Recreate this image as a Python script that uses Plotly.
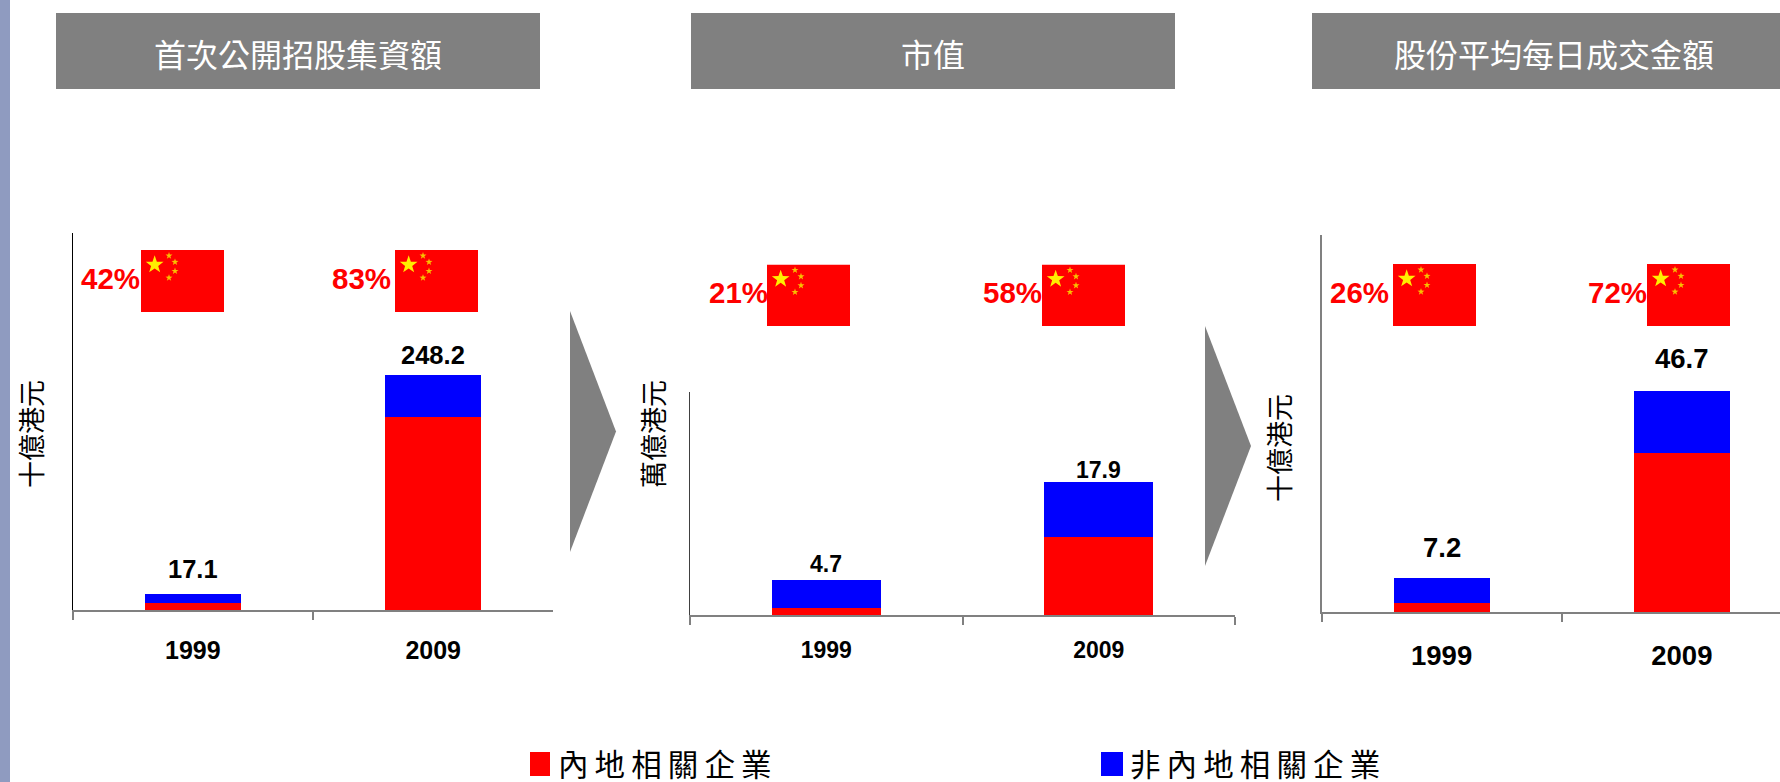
import base64
import plotly.graph_objects as go

W, H = 1780, 782
years = ["1999", "2009"]
titles = ["首次公開招股集資額", "市值", "股份平均每日成交金額"]
units = ["十億港元", "萬億港元", "十億港元"]

ipo_mainland = [7.2, 204.0]
ipo_other = [9.9, 44.2]
ipo_totals = ["17.1", "248.2"]
ipo_pct = ["42%", "83%"]

cap_mainland = [0.99, 10.4]
cap_other = [3.71, 7.4]
cap_totals = ["4.7", "17.9"]
cap_pct = ["21%", "58%"]

turn_mainland = [1.87, 33.5]
turn_other = [5.2, 13.2]
turn_totals = ["7.2", "46.7"]
turn_pct = ["26%", "72%"]

legend_names = ["內地相關企業", "非內地相關企業"]

RED, BLUE, GREY = "#ff0000", "#0000ff", "#808080"
SANS = "Liberation Sans, Arial, sans-serif"
CJK = "Noto Sans CJK TC, sans-serif"

flag_svg = (
    '<svg xmlns="http://www.w3.org/2000/svg" viewBox="0 0 249 185" preserveAspectRatio="none">'
    '<defs><polygon id="s" points="0,-10 2.35,-3.24 9.51,-3.09 3.8,1.24 5.88,8.09 0,4 -5.88,8.09 -3.8,1.24 -9.51,-3.09 -2.35,-3.24"/></defs>'
    '<rect width="249" height="185" fill="#ff0000"/>'
    '<use href="#s" transform="translate(41,44) scale(2.8)" fill="#ffee00"/>'
    '<use href="#s" transform="translate(84,17) scale(1.1)" fill="#f8c000"/>'
    '<use href="#s" transform="translate(102,36) scale(1.1)" fill="#f8c000"/>'
    '<use href="#s" transform="translate(102,63) scale(1.1)" fill="#f8c000"/>'
    '<use href="#s" transform="translate(84,83) scale(1.1)" fill="#f8c000"/>'
    '</svg>'
)
flag_uri = "data:image/svg+xml;base64," + base64.b64encode(flag_svg.encode()).decode()

panels = [
    dict(m=ipo_mainland, o=ipo_other, totals=ipo_totals, pct=ipo_pct, x0=72.6, x1=553.4, xend=553.4, top=233, base=610,
         scale=0.947, axis="#000000", axw=1, tick=25, standoff=17, shift=[25, 20], tsize=25.5,
         flags=[141, 395], pr=[142, 393], fy=(250, 312), py=278, ux=30, uy=434, head=(56, 540)),
    dict(m=cap_mainland, o=cap_other, totals=cap_totals, pct=cap_pct, x0=690, x1=1235, xend=1235, top=392, base=615,
         scale=7.49, axis="#404040", axw=1, tick=23, standoff=13, shift=[16, 12], tsize=23,
         flags=[767, 1042], pr=[770, 1044], fy=(264.5, 326), py=293, ux=652, uy=434, head=(691, 1175)),
    dict(m=turn_mainland, o=turn_other, totals=turn_totals, pct=turn_pct, x0=1321.5, x1=1802, xend=1780, top=235, base=612,
         scale=4.74, axis=GREY, axw=1.5, tick=27.5, standoff=18, shift=[31, 32], tsize=27.5,
         flags=[1393, 1647], pr=[1391, 1649], fy=(264, 326), py=293, ux=1278, uy=448, head=(1312, 1780)),
]

fig = go.Figure()
shapes, annotations, images = [], [], []


def rect(x0, y0, x1, y1, color):
    shapes.append(dict(type="rect", xref="paper", yref="paper", x0=x0 / W, x1=x1 / W,
                       y0=1 - y0 / H, y1=1 - y1 / H, fillcolor=color, line_width=0, layer="below"))


def label(x, y, text, size, color="#000000", family=CJK, bold=False, angle=0, xanchor="center"):
    annotations.append(dict(xref="paper", yref="paper", x=x / W, y=1 - y / H, text=f"<b>{text}</b>" if bold else text,
                            showarrow=False, xanchor=xanchor, yanchor="middle", textangle=angle,
                            font=dict(size=size, color=color, family=family)))


layout_axes = {}
for i, p in enumerate(panels):
    n = "" if i == 0 else str(i + 1)
    xa, ya = f"x{n}", f"y{n}"
    fig.add_bar(x=years, y=p["m"], name=legend_names[0], marker_color=RED, marker_line_width=0,
                xaxis=xa, yaxis=ya, showlegend=False)
    fig.add_bar(x=years, y=p["o"], name=legend_names[1], marker_color=BLUE, marker_line_width=0,
                xaxis=xa, yaxis=ya, showlegend=False)
    cat_w = (p["x1"] - p["x0"]) / 2
    layout_axes[f"xaxis{n}"] = dict(
        type="category", domain=[p["x0"] / W, p["xend"] / W], range=[-0.5, -0.5 + (p["xend"] - p["x0"]) / cat_w],
        anchor=ya, tickson="boundaries", ticks="outside", ticklen=8, tickwidth=1.5, tickcolor=GREY,
        showline=True, linecolor=GREY, linewidth=2, showgrid=False, zeroline=False,
        ticklabelstandoff=p["standoff"],
        tickfont=dict(size=p["tick"], family=SANS, color="#000000", weight="bold"))
    layout_axes[f"yaxis{n}"] = dict(
        domain=[1 - p["base"] / H, 1 - p["top"] / H], range=[0, (p["base"] - p["top"]) / p["scale"]],
        anchor=xa, showticklabels=False, ticks="", showgrid=False, zeroline=False,
        showline=True, linecolor=p["axis"], linewidth=p["axw"])

    for j, yr in enumerate(years):
        # numeric-looking categories are addressed by their index on a category axis
        annotations.append(dict(xref=xa, yref=ya, x=j, y=p["m"][j] + p["o"][j], yshift=p["shift"][j],
                                text=f"<b>{p['totals'][j]}</b>", showarrow=False, yanchor="middle",
                                font=dict(size=p["tsize"], family=SANS, color="#000000")))
        fx = p["flags"][j]
        images.append(dict(source=flag_uri, xref="paper", yref="paper", x=fx / W, y=1 - p["fy"][0] / H,
                           sizex=83 / W, sizey=(p["fy"][1] - p["fy"][0]) / H, sizing="stretch",
                           xanchor="left", yanchor="top", layer="above"))
        label(p["pr"][j], p["py"], p["pct"][j], 29.5, RED, SANS, True, xanchor="right")

    rect(p["head"][0], 13, p["head"][1], 89, GREY)
    label((p["head"][0] + 484 / 2), 53, titles[i], 32, "#ffffff")
    label(p["ux"], p["uy"], units[i], 27, angle=-90)

# left page strip
rect(0, 0, 10, H, "#8f9bc0")

# chevrons between the panels
for x0, x1, y0, y1 in [(570, 616, 311, 552), (1205, 1251, 326, 566)]:
    shapes.append(dict(type="path", xref="paper", yref="paper", fillcolor=GREY, line_width=0,
                       path=f"M {x0/W} {1-y0/H} L {x1/W} {1-(y0+y1)/2/H} L {x0/W} {1-y1/H} Z"))

# legend
thin = "\u2009"
for name, color, sx0, sx1, tx in [(legend_names[0], RED, 530, 550, 556), (legend_names[1], BLUE, 1101, 1123, 1128)]:
    rect(sx0, 752, sx1, 776, color)
    label(tx, 765, thin.join(name), 30.5, family="Liberation Sans, Noto Sans CJK TC, sans-serif", xanchor="left")

fig.update_layout(
    width=W, height=H, margin=dict(l=0, r=0, t=0, b=0), autosize=False,
    paper_bgcolor="#ffffff", plot_bgcolor="#ffffff",
    barmode="stack", bargap=0.6, showlegend=False,
    shapes=shapes, annotations=annotations, images=images, **layout_axes)

fig.write_html("out.html", post_script="document.body.style.margin='0';", config={"displayModeBar": False})
